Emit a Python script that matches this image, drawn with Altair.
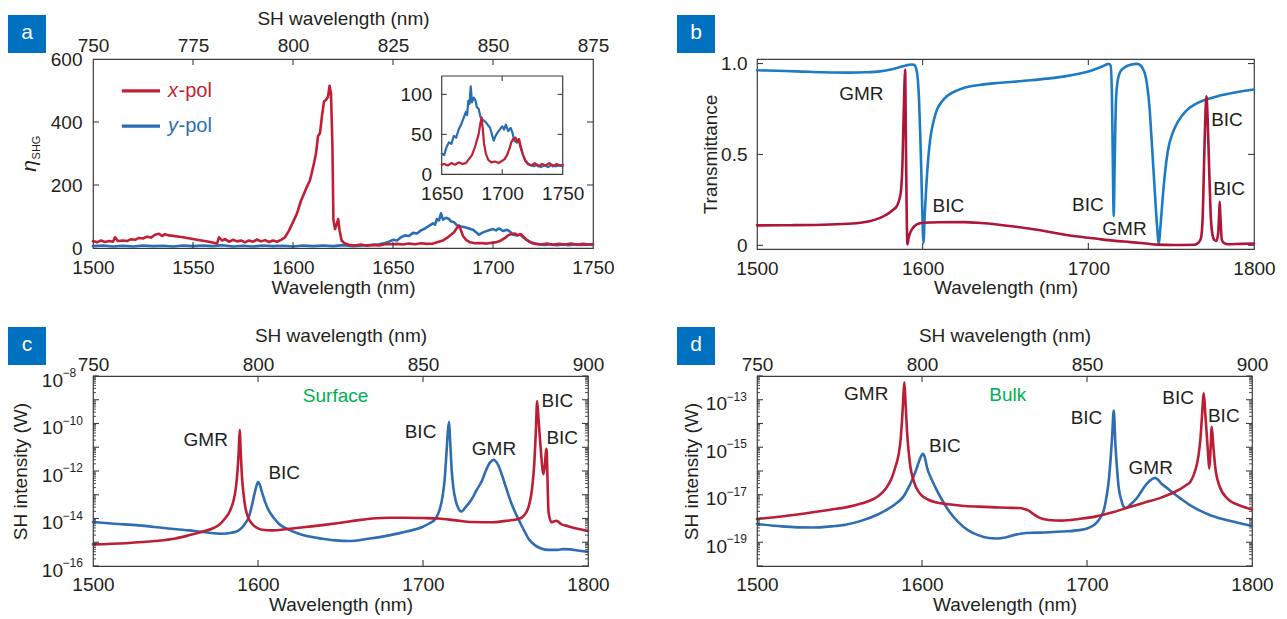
import altair as alt
import pandas as pd

FONT = "Liberation Sans"
TXT = "#231F20"
FRAME = "#3C3C3C"
RED_A = "#C21F35"
BLUE_A = "#2A6DB5"
RED_B = "#AE1538"
BLUE_B = "#1C7BC6"
RED_C = "#BC1E35"
BLUE_C = "#2F6DB3"
GREEN = "#00B050"
BADGE = "#0070C0"
FS = 19

# ---------------- panel a data (measured SHG efficiency) ----------------
a_red_wl = [1500, 1502, 1504, 1506, 1508, 1510, 1511, 1512.5, 1515, 1517, 1519, 1521, 1523, 1525, 1527,
            1529, 1531, 1533, 1534.5, 1536, 1538, 1545, 1552, 1558, 1562, 1563, 1564.5, 1566, 1568, 1570,
            1572, 1574, 1576, 1578, 1580, 1582, 1584, 1586, 1588, 1590, 1592, 1594, 1596, 1598, 1600,
            1602, 1604, 1605.5, 1607, 1608.5, 1610, 1611.5, 1612.5, 1613.5, 1614.5, 1615.5, 1616.5, 1617.5,
            1618.3, 1619, 1619.7, 1620.2, 1621, 1621.8, 1622.6, 1623.3, 1624.3, 1626, 1628, 1631, 1634,
            1637, 1640, 1643, 1646, 1650, 1652, 1655, 1658, 1661, 1664, 1667, 1670, 1672, 1675, 1677,
            1679, 1680.5, 1682, 1683, 1684, 1685, 1686.5, 1688.5, 1691, 1694, 1697, 1700, 1702, 1704,
            1706, 1707.5, 1709, 1711, 1712.5, 1714, 1715.5, 1717, 1719, 1721, 1724, 1727, 1730, 1733,
            1736, 1739, 1742, 1745, 1748, 1750]
a_red_val = [22, 18, 24, 19, 22, 20, 34, 22, 24, 22, 28, 26, 32, 30, 36,
             33, 42, 45, 38, 44, 40, 34, 26, 20, 14, 34, 24, 28, 20, 26,
             21, 24, 18, 24, 20, 27, 21, 25, 19, 24, 20, 26, 34, 55, 82,
             110, 150, 172, 195, 215, 255, 300, 355, 365, 420, 465, 470, 480,
             515, 490, 330, 90, 60, 75, 92, 55, 24, 14, 10, 8, 11,
             7, 10, 8, 12, 12, 13, 11, 14, 12, 15, 13, 14, 18, 24, 32,
             42, 50, 64, 71, 56, 38, 26, 18, 15, 16, 14, 17, 19, 24,
             32, 40, 44, 46, 40, 44, 34, 25, 17, 13, 11, 14, 10, 13,
             11, 14, 10, 13, 11, 12]
a_blue_wl = [1500, 1505, 1510, 1515, 1520, 1525, 1530, 1535, 1540, 1545, 1550, 1555, 1560, 1565, 1570,
             1575, 1580, 1585, 1590, 1595, 1600, 1605, 1610, 1615, 1620, 1625, 1630, 1635, 1640,
             1643, 1646, 1648, 1650, 1652, 1654, 1656, 1658, 1660, 1662, 1664, 1666, 1668, 1670,
             1671, 1672, 1673, 1674, 1675, 1676.5, 1678, 1679, 1680.5, 1682, 1684, 1686, 1688, 1690,
             1691.5, 1693, 1694.5, 1696, 1698, 1700, 1701.5, 1703, 1705, 1707, 1708.5, 1710, 1712,
             1713.5, 1715, 1717, 1719, 1721, 1723, 1726, 1729, 1732, 1735, 1738, 1741, 1744, 1747, 1750]
a_blue_val = [6, 8, 5, 7, 5, 8, 6, 7, 5, 8, 6, 8, 6, 9, 5,
              7, 5, 8, 6, 7, 5, 8, 6, 8, 6, 9, 6, 8, 10,
              12, 16, 20, 26, 24, 34, 40, 38, 48, 46, 56, 62, 70, 78,
              74, 92, 88, 110, 90, 96, 92, 84, 82, 72, 68, 66, 62, 58,
              50, 42, 48, 52, 56, 60, 56, 62, 54, 58, 52, 42, 40,
              44, 34, 25, 18, 14, 12, 10, 12, 9, 11, 9, 12, 10, 11, 10]
a_x_labels = [1500, 1550, 1600, 1650, 1700, 1750]
a_y_labels = [0, 200, 400, 600]
a_sh_labels = [750, 775, 800, 825, 850, 875]
a_inset_x_labels = [1650, 1700, 1750]
a_inset_y_labels = [0, 50, 100]
a_legend_letters = ["x", "y"]
a_legend_suffix = "-pol"
a_legend_wl = [1514.4, 1533.5, 1537.5]
a_legend_val = [499, 387]

# ---------------- panel b data (transmittance) ----------------
b_blue = [(1500, 0.963), (1512, 0.960), (1524, 0.957), (1540, 0.952), (1556, 0.950), (1566, 0.952),
          (1574, 0.957), (1580, 0.966), (1586, 0.980), (1590, 0.989), (1593, 0.995), (1594.8, 0.993),
          (1596, 0.975), (1597, 0.92), (1597.8, 0.80), (1598.5, 0.62), (1599.2, 0.40), (1599.8, 0.18),
          (1600.5, 0.015), (1601.2, 0.16), (1602.1, 0.31), (1603.2, 0.46), (1604.5, 0.58), (1606.5, 0.68),
          (1608.6, 0.745), (1611.5, 0.79), (1614.6, 0.82), (1619, 0.845), (1624.7, 0.866), (1634, 0.882),
          (1644.8, 0.893), (1655, 0.900), (1665, 0.908), (1675, 0.917), (1685, 0.928), (1695, 0.945),
          (1702, 0.962), (1708, 0.982), (1712.2, 0.998), (1713.4, 0.99), (1714.2, 0.85), (1714.8, 0.45),
          (1715.3, 0.16), (1715.9, 0.45), (1716.7, 0.80), (1717.8, 0.91), (1719.3, 0.955), (1722, 0.98),
          (1725.4, 0.993), (1729.3, 0.998), (1731.5, 0.99), (1733, 0.97), (1734.3, 0.94), (1735.5, 0.88),
          (1737, 0.75), (1738, 0.61), (1739.3, 0.42), (1740.5, 0.24), (1741.7, 0.08), (1742.5, 0.005),
          (1743.5, 0.10), (1744.7, 0.24), (1746.3, 0.40), (1748, 0.52), (1751, 0.62), (1754.3, 0.683),
          (1759, 0.74), (1764.3, 0.775), (1769, 0.795), (1774.3, 0.81), (1780, 0.825), (1786.8, 0.838),
          (1793, 0.848), (1800, 0.857)]
b_red = [(1500, 0.110), (1520, 0.111), (1544, 0.115), (1560, 0.122), (1568, 0.133), (1574, 0.150),
         (1578.4, 0.170), (1582, 0.195), (1584.4, 0.216), (1586, 0.255), (1587, 0.308), (1587.8, 0.45),
         (1588.4, 0.67), (1589, 0.88), (1589.4, 0.967), (1589.8, 0.65), (1590.2, 0.30), (1590.8, 0.005),
         (1591.5, 0.04), (1592.5, 0.07), (1593.5, 0.088), (1595, 0.105), (1596.5, 0.115), (1600.5, 0.124),
         (1610, 0.127), (1624.7, 0.128), (1635, 0.123), (1644.8, 0.115), (1655, 0.104), (1665, 0.091),
         (1675, 0.076), (1685, 0.060), (1695, 0.047), (1705.3, 0.036), (1715, 0.026), (1725.4, 0.018),
         (1735, 0.010), (1741.7, 0.004), (1752, 0.002), (1764, 0.003), (1766.5, 0.015), (1768, 0.04),
         (1769, 0.15), (1769.8, 0.43), (1770.6, 0.70), (1771.3, 0.82), (1772, 0.70), (1772.9, 0.43),
         (1773.8, 0.18), (1774.9, 0.06), (1776, 0.03), (1777.3, 0.024), (1778.3, 0.06), (1779, 0.18),
         (1779.3, 0.24), (1779.7, 0.16), (1780.6, 0.03), (1782, 0.012), (1784.3, 0.006), (1792, 0.008),
         (1800, 0.010)]
b_x_labels = [1500, 1600, 1700, 1800]
b_y_labels = [0, 0.5, 1.0]
b_y_label_text = ["0", "0.5", "1.0"]
b_ann = [("GMR", 1563, 0.83), ("BIC", 1615.5, 0.216), ("BIC", 1699.7, 0.22), ("GMR", 1721.8, 0.09),
         ("BIC", 1783.7, 0.69), ("BIC", 1785, 0.31)]

# ---------------- panel c data (surface SH, log10 of W) ----------------
c_red = [(1500, -15.09), (1520, -15.04), (1537.6, -14.95), (1550, -14.84), (1558, -14.71), (1566, -14.56),
         (1572, -14.43), (1576.5, -14.26), (1580, -14.0), (1583, -13.68), (1585.2, -13.24), (1586.6, -12.7),
         (1587.6, -11.97), (1588.3, -11.2), (1588.9, -10.28), (1589.6, -11.3), (1590.3, -12.25),
         (1591.2, -12.95), (1592.3, -13.52), (1594, -13.95), (1596.4, -14.22), (1599, -14.38),
         (1602.4, -14.47), (1608.5, -14.5), (1618, -14.44), (1628.7, -14.36), (1639, -14.28), (1649, -14.19),
         (1660, -14.08), (1669.2, -14.0), (1680, -13.97), (1689.4, -13.97), (1700, -13.98), (1709.7, -14.0),
         (1720, -14.08), (1730, -14.15), (1742, -14.16), (1750, -14.1), (1758, -14.02), (1761.5, -13.85),
         (1764.2, -13.46), (1766, -12.8), (1767.5, -11.63), (1768.4, -10.3), (1769.2, -9.05), (1770.1, -9.9),
         (1771.2, -10.93), (1772.1, -11.7), (1772.9, -12.13), (1773.8, -11.8), (1774.5, -11.2),
         (1774.9, -11.07), (1775.4, -12.2), (1776.1, -13.74), (1777.9, -14.16), (1779.5, -14.12),
         (1781, -14.1), (1784, -14.25), (1786.6, -14.3), (1793, -14.42), (1800, -14.52)]
c_blue = [(1500, -14.15), (1513, -14.22), (1527.6, -14.29), (1543, -14.4), (1558, -14.5), (1568, -14.58),
          (1578, -14.64), (1584, -14.6), (1588.3, -14.5), (1591.5, -14.28), (1594.4, -13.94), (1596, -13.55),
          (1597.4, -13.1), (1598.8, -12.7), (1600, -12.46), (1601.2, -12.6), (1602.4, -12.89), (1604.3, -13.3),
          (1606.5, -13.66), (1609.5, -13.97), (1612.6, -14.22), (1618, -14.45), (1624.7, -14.64),
          (1631, -14.76), (1638.9, -14.85), (1647, -14.92), (1655.1, -14.95), (1667, -14.85), (1679.4, -14.71),
          (1690, -14.55), (1699.6, -14.36), (1704, -14.2), (1707.7, -14.0), (1710, -13.65), (1711.8, -13.1),
          (1713.2, -12.3), (1714.2, -11.27), (1715, -10.4), (1715.8, -9.93), (1716.5, -10.8), (1717.4, -11.97),
          (1718.5, -12.75), (1719.8, -13.24), (1721.3, -13.55), (1723.2, -13.71), (1725.5, -13.55),
          (1729.6, -13.18), (1732.5, -12.8), (1735.8, -12.4), (1738, -12.0), (1739.5, -11.77), (1741.2, -11.6),
          (1742.7, -11.53), (1744.2, -11.6), (1745.7, -11.77), (1748, -12.2), (1750.6, -12.76),
          (1753.5, -13.35), (1756.8, -13.88), (1760.5, -14.4), (1764.2, -14.87), (1768, -15.13),
          (1771.6, -15.26), (1776, -15.32), (1781.5, -15.32), (1785, -15.29), (1789, -15.3), (1795, -15.36),
          (1800, -15.4)]
c_x_labels = [1500, 1600, 1700, 1800]
c_sh_labels = [750, 800, 850, 900]
c_decades = [-16, -15, -14, -13, -12, -11, -10, -9, -8]
c_y_label_exps = [-16, -14, -12, -10, -8]
c_y_label_text = ["−16", "−14", "−12", "−10", "−8"]
c_ann = [("GMR", 1568.3, -10.7), ("BIC", 1615.9, -12.09), ("BIC", 1698.5, -10.37), ("GMR", 1743, -11.08),
         ("BIC", 1781.4, -9.05), ("BIC", 1784.4, -10.6)]
c_tag = ("Surface", 1647, -8.83)

# ---------------- panel d data (bulk SH, log10 of W) ----------------
d_red = [(1500, -18.02), (1523.3, -17.84), (1543.5, -17.64), (1556, -17.5), (1563.6, -17.36), (1570, -17.2),
         (1573.8, -17.04), (1578, -16.75), (1581.8, -16.27), (1584, -15.8), (1585.9, -15.28), (1587, -14.7),
         (1587.9, -13.87), (1588.6, -13.0), (1589.3, -12.26), (1590, -13.1), (1590.9, -14.3), (1591.8, -15.1),
         (1593, -15.84), (1594.5, -16.3), (1596, -16.62), (1598, -16.88), (1600, -17.04), (1603.5, -17.2),
         (1608.1, -17.32), (1616, -17.4), (1624.2, -17.46), (1634, -17.5), (1644.5, -17.53), (1652, -17.55),
         (1658.6, -17.56), (1662, -17.6), (1664.7, -17.67), (1667.7, -17.82), (1670.7, -17.95),
         (1676.8, -18.06), (1684.8, -18.09), (1695, -18.02), (1705.1, -17.92), (1715, -17.75),
         (1725.3, -17.53), (1735, -17.33), (1745, -17.12), (1755.3, -16.81), (1760, -16.6), (1762.6, -16.46),
         (1765.5, -16.0), (1767.6, -15.34), (1768.8, -14.6), (1769.6, -13.79), (1770.8, -12.73),
         (1771.7, -13.6), (1772.6, -14.49), (1773.4, -15.3), (1774.1, -15.9), (1774.8, -15.2),
         (1775.6, -14.14), (1776.5, -14.9), (1777.6, -15.76), (1780.1, -16.6), (1785.1, -17.16),
         (1792.6, -17.45), (1800, -17.62)]
d_blue = [(1500, -18.23), (1515, -18.33), (1533.3, -18.38), (1545, -18.33), (1553.6, -18.26), (1563, -18.1),
          (1573.8, -17.81), (1583.9, -17.39), (1588.5, -17.1), (1591.9, -16.69), (1594.8, -16.25),
          (1597, -15.84), (1599, -15.45), (1600.6, -15.28), (1601.8, -15.45), (1603, -15.84), (1605.5, -16.3),
          (1608.1, -16.69), (1612, -17.2), (1616.2, -17.67), (1622, -18.15), (1628.3, -18.51), (1634, -18.7),
          (1640.4, -18.82), (1645, -18.84), (1650.5, -18.8), (1655.5, -18.7), (1660.6, -18.63), (1667, -18.6),
          (1674.8, -18.59), (1685, -18.55), (1695, -18.49), (1700, -18.42), (1705.1, -18.23), (1708, -17.97),
          (1710.1, -17.67), (1711.8, -17.1), (1713.2, -16.4), (1714.3, -15.5), (1715.2, -14.58),
          (1716.2, -13.45), (1717.2, -14.86), (1718.2, -15.9), (1719.2, -16.69), (1720.7, -17.2),
          (1722.2, -17.5), (1723.7, -17.56), (1726.5, -17.4), (1730, -17.16), (1733, -16.85), (1736.3, -16.53),
          (1739, -16.36), (1741.3, -16.29), (1743.2, -16.38), (1745.1, -16.53), (1748.5, -16.72),
          (1752.6, -16.95), (1757.5, -17.2), (1762.6, -17.45), (1768.5, -17.67), (1775.1, -17.87),
          (1781, -18.0), (1787.6, -18.12), (1794, -18.22), (1800, -18.32)]
d_x_labels = [1500, 1600, 1700, 1800]
d_sh_labels = [750, 800, 850, 900]
d_decades = [-20, -19, -18, -17, -16, -15, -14, -13, -12]
d_y_label_exps = [-19, -17, -15, -13]
d_y_label_text = ["−19", "−17", "−15", "−13"]
d_ann = [("GMR", 1566.2, -12.76), ("BIC", 1613.9, -14.95), ("BIC", 1699.7, -13.75), ("GMR", 1738.6, -15.86),
         ("BIC", 1755.2, -12.91), ("BIC", 1782.9, -13.68)]
d_tag = ("Bulk", 1652, -12.82)

# ---------------- layout (plot-area sizes, px) ----------------
AW, AH = 500, 189
BW, BH = 497, 190
CW, CH = 495, 190
DW, DH = 495, 190
TICK = 6
MINOR = 3
IN_X0, IN_X1 = 348.7, 469.7     # inset edges inside panel a
IN_YB, IN_YT = 115.3, 17.0


def one():
    return pd.DataFrame({"k": [0]})


def ax_bottom(values, w, pad, title="Wavelength (nm)", offset=0, title_y=44):
    kw = dict(orient="bottom", values=values, format="d", ticks=False, tickSize=0, domain=False, grid=False,
              labelFontSize=FS, labelColor=TXT, labelPadding=pad, labelBaseline="alphabetic",
              labelFlush=False, labelOverlap=False, title=title, titleFontSize=FS, titleFontWeight="normal",
              titleColor=TXT, titleX=w / 2, titleY=title_y, titleBaseline="alphabetic", titleAlign="center")
    if offset:
        kw["offset"] = offset
    return alt.Axis(**kw)


def ax_top(values, w, pad):
    return alt.Axis(orient="top", values=values, format="d", ticks=False, tickSize=0, domain=False, grid=False,
                    labelFontSize=FS, labelColor=TXT, labelPadding=pad, labelBaseline="alphabetic",
                    labelFlush=False, labelOverlap=False, title="SH wavelength (nm)", titleFontSize=FS,
                    titleFontWeight="normal", titleColor=TXT, titleX=w / 2, titleY=-35,
                    titleBaseline="alphabetic", titleAlign="center")


def ax_left(values, h, pad, title, title_x, label_expr="", offset=0, label_offset=0):
    kw = dict(orient="left", values=values, ticks=False, tickSize=0, domain=False, grid=False,
              labelFontSize=FS, labelColor=TXT, labelPadding=pad, labelFlush=False, labelOverlap=False,
              title=title, titleFontSize=FS, titleFontWeight="normal", titleColor=TXT, titleX=title_x,
              titleY=h / 2, titleBaseline="alphabetic", titleAlign="center", titleAngle=270)
    if label_expr:
        kw["labelExpr"] = label_expr
    if offset:
        kw["offset"] = offset
    if label_offset:
        kw["labelOffset"] = label_offset
    return alt.Axis(**kw)


def enc_x(field, scale, axis=None):
    if axis is not None:
        return alt.X(field, scale=scale, axis=axis)
    return alt.X(field, scale=scale)


def enc_y(field, scale, axis=None):
    if axis is not None:
        return alt.Y(field, scale=scale, axis=axis)
    return alt.Y(field, scale=scale)


def curve(xs_list, ys_list, color, xscale, yscale, interp, width=2.6, x_axis=None, y_axis=None):
    d = pd.DataFrame({"wl": xs_list, "v": ys_list})
    return alt.Chart(d).mark_line(color=color, strokeWidth=width, interpolate=interp,
                                  strokeJoin="round", strokeCap="round").encode(
        x=enc_x("wl:Q", xscale, x_axis), y=enc_y("v:Q", yscale, y_axis))


def yticks(values, scale, x_left, x_right, length, width=1.1):
    d = pd.DataFrame({"t": values})
    left = alt.Chart(d).mark_rule(color=FRAME, strokeWidth=width).encode(
        y=enc_y("t:Q", scale), x=alt.value(x_left), x2=alt.value(x_left + length))
    right = alt.Chart(d).mark_rule(color=FRAME, strokeWidth=width).encode(
        y=enc_y("t:Q", scale), x=alt.value(x_right - length), x2=alt.value(x_right))
    return [left, right]


def xticks(values, scale, y_top, y_bottom, length, top=True, width=1.1):
    d = pd.DataFrame({"t": values})
    out = [alt.Chart(d).mark_rule(color=FRAME, strokeWidth=width).encode(
        x=enc_x("t:Q", scale), y=alt.value(y_bottom - length), y2=alt.value(y_bottom))]
    if top:
        out.append(alt.Chart(d).mark_rule(color=FRAME, strokeWidth=width).encode(
            x=enc_x("t:Q", scale), y=alt.value(y_top), y2=alt.value(y_top + length)))
    return out


def annotations(items, xscale, yscale, color=TXT, log=False):
    d = pd.DataFrame({"t": [i[0] for i in items], "wl": [i[1] for i in items],
                      "v": [10 ** i[2] if log else i[2] for i in items]})
    return alt.Chart(d).mark_text(font=FONT, fontSize=FS, color=color, align="center", baseline="middle").encode(
        x=enc_x("wl:Q", xscale), y=enc_y("v:Q", yscale), text="t:N")


def badge(letter, x0, y0):
    r = alt.Chart(one()).mark_rect(color=BADGE).encode(
        x=alt.value(x0), x2=alt.value(x0 + 38), y=alt.value(y0), y2=alt.value(y0 + 38))
    t = alt.Chart(one()).mark_text(font=FONT, fontSize=21, color="white", align="center", baseline="middle").encode(
        x=alt.value(x0 + 19), y=alt.value(y0 + 18), text=alt.value(letter))
    return [r, t]


def sh_layer(sh_labels, dom, w, pad):
    d = pd.DataFrame({"sh": sh_labels[1:-1]})
    return alt.Chart(d).mark_rule(color=FRAME, strokeWidth=1.1).encode(
        x=alt.X("sh:Q", scale=alt.Scale(domain=dom, nice=False), axis=ax_top(sh_labels, w, pad)),
        y=alt.value(0), y2=alt.value(TICK))


# ======================= panel a =======================
xs_a = alt.Scale(domain=[1500, 1750], nice=False)
ys_a = alt.Scale(domain=[0, 600], nice=False)
a_layers = [
    curve(a_blue_wl, a_blue_val, BLUE_A, xs_a, ys_a, "linear",
          x_axis=ax_bottom(a_x_labels, AW, 25, title_y=45), y_axis=ax_left(a_y_labels, AH, 11, "", -60)),
    curve(a_red_wl, a_red_val, RED_A, xs_a, ys_a, "linear"),
]
a_layers += yticks(a_y_labels[1:-1], ys_a, 0, AW, TICK)
a_layers += xticks(a_x_labels[1:-1], xs_a, 0, AH, TICK, top=False)
for letter, color, v in zip(a_legend_letters, [RED_A, BLUE_A], a_legend_val):
    dl = pd.DataFrame({"x0": [a_legend_wl[0]], "x1": [a_legend_wl[1]], "xt": [a_legend_wl[2]], "v": [v],
                       "l": [letter], "s": [a_legend_suffix]})
    base = alt.Chart(dl)
    a_layers.append(base.mark_rule(color=color, strokeWidth=3.2).encode(
        x=enc_x("x0:Q", xs_a), x2="x1:Q", y=enc_y("v:Q", ys_a)))
    a_layers.append(base.mark_text(font=FONT, fontSize=FS + 1, fontStyle="italic", color=color, align="left",
                                   baseline="middle").encode(
        x=enc_x("xt:Q", xs_a), y=enc_y("v:Q", ys_a), text="l:N"))
    a_layers.append(base.mark_text(font=FONT, fontSize=FS + 1, color=color, align="left", baseline="middle",
                                   dx=10.5).encode(
        x=enc_x("xt:Q", xs_a), y=enc_y("v:Q", ys_a), text="s:N"))
a_layers.append(alt.Chart(one()).mark_text(font=FONT, fontSize=21, fontStyle="italic", color=TXT, angle=270,
                                           align="center", baseline="middle").encode(
    x=alt.value(-63), y=alt.value(107), text=alt.value("η")))
a_layers.append(alt.Chart(one()).mark_text(font=FONT, fontSize=11, color=TXT, angle=270,
                                           align="center", baseline="middle").encode(
    x=alt.value(-56.5), y=alt.value(88.5), text=alt.value("SHG")))
a_layers += badge("a", -85, -44)
main_a = alt.layer(*a_layers)

# inset of panel a
xs_in = alt.Scale(domain=[1650, 1750], range=[IN_X0, IN_X1], nice=False)
ys_in = alt.Scale(domain=[0, 123], range=[IN_YB, IN_YT], nice=False)
box = alt.Chart(pd.DataFrame({"x0": [1650], "x1": [1750], "y0": [0], "y1": [123]})).mark_rect(
    fill="white", stroke=FRAME, strokeWidth=1.2).encode(
    x=alt.X("x0:Q", scale=xs_in, axis=ax_bottom(a_inset_x_labels, 0, 25, title="", offset=-(AH - IN_YB))),
    x2="x1:Q",
    y=alt.Y("y0:Q", scale=ys_in, axis=ax_left(a_inset_y_labels, 0, 10, "", 0, offset=-IN_X0)),
    y2="y1:Q")
in_blue = [(w, v) for w, v in zip(a_blue_wl, a_blue_val) if 1650 <= w <= 1750]
in_red = [(w, v) for w, v in zip(a_red_wl, a_red_val) if 1650 <= w <= 1750]
inset_layers = [box,
                curve([p[0] for p in in_blue], [p[1] for p in in_blue], BLUE_A, xs_in, ys_in, "linear", 2.2),
                curve([p[0] for p in in_red], [p[1] for p in in_red], RED_A, xs_in, ys_in, "linear", 2.2)]
inset_layers += yticks([50, 100], ys_in, IN_X0, IN_X1, 5)
inset_layers += xticks([1700], xs_in, IN_YT, IN_YB, 5)
inset_a = alt.layer(*inset_layers)

panel_a = alt.layer(main_a, sh_layer(a_sh_labels, [750, 875], AW, 8), inset_a).resolve_scale(
    x="independent", y="independent").properties(width=AW, height=AH)

# ======================= panel b =======================
xs_b = alt.Scale(domain=[1500, 1800], nice=False)
ys_b = alt.Scale(domain=[-0.02, 1.025], nice=False)
b_expr = " : ".join([f"abs(datum.value - {v}) < 0.001 ? '{t}'" for v, t in zip(b_y_labels, b_y_label_text)]) + " : ''"
b_layers = [
    curve([p[0] for p in b_blue], [p[1] for p in b_blue], BLUE_B, xs_b, ys_b, "monotone",
          x_axis=ax_bottom(b_x_labels, BW, 25, title_y=44.5),
          y_axis=ax_left(b_y_labels, BH, 10, "Transmittance", -40.5, label_expr=b_expr)),
    curve([p[0] for p in b_red], [p[1] for p in b_red], RED_B, xs_b, ys_b, "monotone"),
    annotations(b_ann, xs_b, ys_b),
]
b_layers += yticks(b_y_labels, ys_b, 0, BW, TICK)
b_layers += xticks(b_x_labels[1:-1], xs_b, 0, BH, TICK)
b_layers += badge("b", -80, -44)
panel_b = alt.layer(*b_layers).properties(width=BW, height=BH)


# ======================= panels c, d =======================
def log_panel(red, blue, decades, lab_exps, lab_text, ann, tag, x_labels, sh_labels, w, h, letter,
              bx, by, lab_pad, x_pad, title_x, sh_pad):
    xs = alt.Scale(domain=[1500, 1800], nice=False)
    ys = alt.Scale(type="log", domain=[10.0 ** decades[0], 10.0 ** decades[-1]], nice=False)
    lab_vals = [10.0 ** e for e in lab_exps]
    layers = [
        curve([p[0] for p in blue], [10 ** p[1] for p in blue], BLUE_C, xs, ys, "monotone",
              x_axis=ax_bottom(x_labels, w, x_pad),
              y_axis=ax_left(lab_vals, h, lab_pad, "SH intensity (W)", title_x,
                             label_expr="'10'", label_offset=4)),
        curve([p[0] for p in red], [10 ** p[1] for p in red], RED_C, xs, ys, "monotone"),
        annotations(ann, xs, ys, log=True),
        annotations([tag], xs, ys, color=GREEN, log=True),
        # exponents of the "10^n" tick labels
        alt.Chart(pd.DataFrame({"v": lab_vals, "t": lab_text})).mark_text(
            font=FONT, fontSize=12, color=TXT, align="left", baseline="middle", dy=-3).encode(
            x=alt.value(-lab_pad), y=enc_y("v:Q", ys), text="t:N"),
    ]
    majors = [10.0 ** e for e in decades]
    minors = [k * 10.0 ** e for e in decades[:-1] for k in range(2, 10)]
    layers += yticks(majors, ys, 0, w, TICK)
    layers += yticks(minors, ys, 0, w, MINOR, width=0.9)
    layers += xticks(x_labels[1:-1], xs, 0, h, TICK, top=False)
    layers += badge(letter, bx, by)
    main = alt.layer(*layers)
    return alt.layer(main, sh_layer(sh_labels, [750, 900], w, sh_pad)).resolve_scale(
        x="independent").properties(width=w, height=h)


panel_c = log_panel(c_red, c_blue, c_decades, c_y_label_exps, c_y_label_text, c_ann, c_tag, c_x_labels,
                    c_sh_labels, CW, CH, "c", -85, -49, 30.5, 24, -67, 6)
panel_d = log_panel(d_red, d_blue, d_decades, d_y_label_exps, d_y_label_text, d_ann, d_tag, d_x_labels,
                    d_sh_labels, DW, DH, "d", -80, -49, 30.5, 24.5, -60, 6)

chart = alt.concat(panel_a, panel_b, panel_c, panel_d, columns=2,
                   spacing={"row": 127, "column": 164}, bounds="flush").properties(
    padding={"left": 7, "top": 8, "right": 5, "bottom": 5}
).configure(font=FONT, background="white").configure_view(stroke=FRAME, strokeWidth=1.2).configure_axis(
    labelFont=FONT, titleFont=FONT)

chart.save("out.html", embed_options={"renderer": "svg", "actions": False})
